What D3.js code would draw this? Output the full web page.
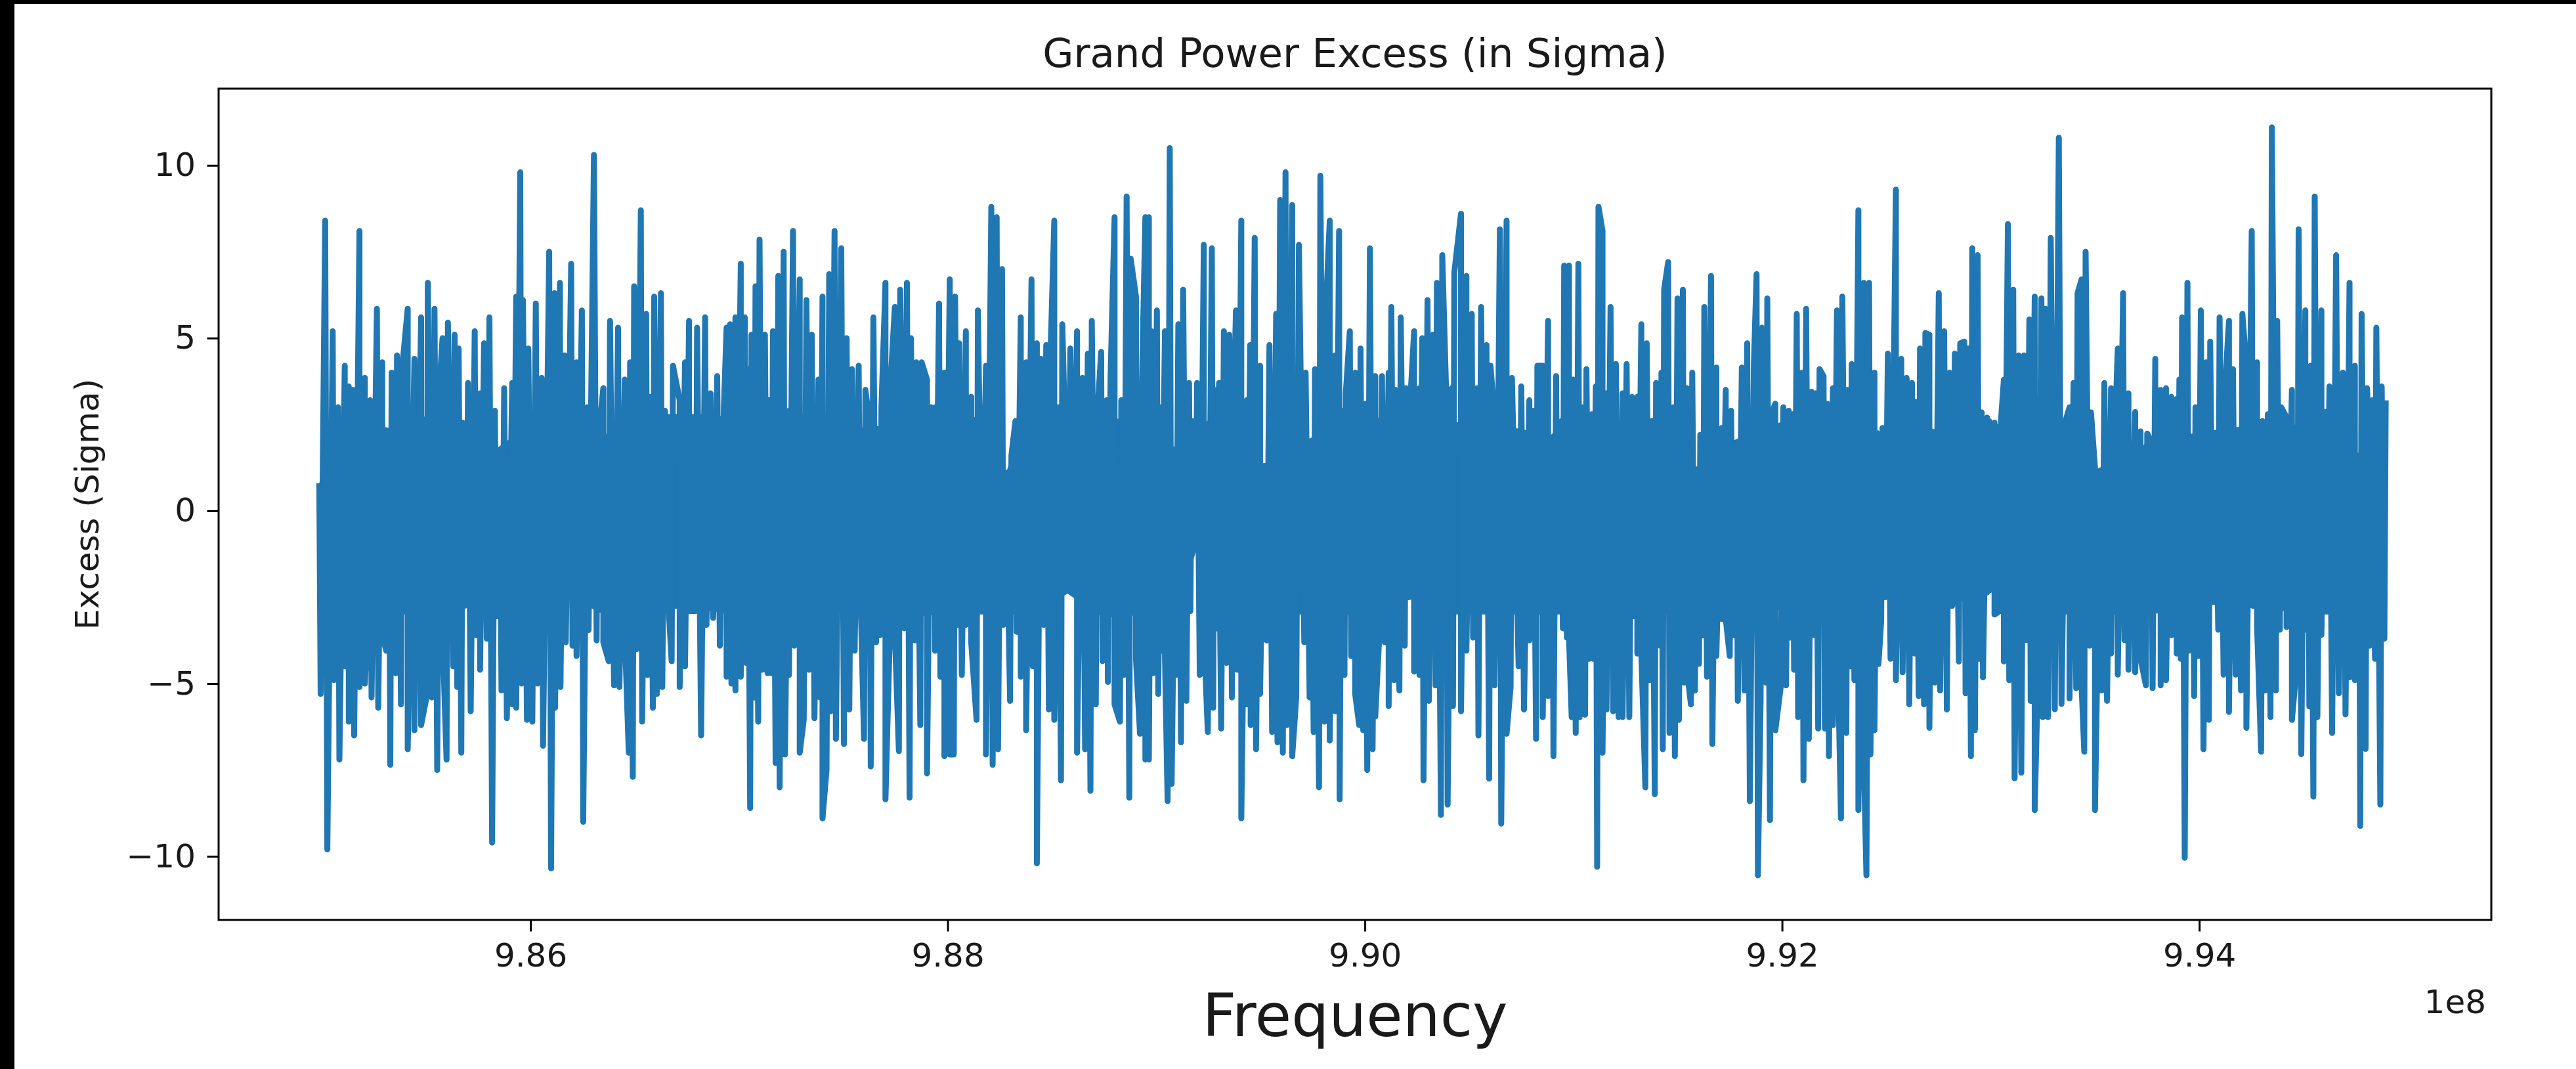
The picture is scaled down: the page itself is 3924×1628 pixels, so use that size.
<!DOCTYPE html>
<html><head><meta charset="utf-8">
<script src="https://cdn.jsdelivr.net/npm/d3@7"></script>
<style>
html,body{margin:0;padding:0;background:#fff;}
svg{display:block;}
text{font-family:"DejaVu Sans",sans-serif;fill:#1a1a1a;}
</style></head><body>
<svg id="chart" width="3924" height="1628"></svg>
<script>
// ---------- texts ----------
const chartTitle = "Grand Power Excess (in Sigma)";
const xAxisLabel = "Frequency";
const yAxisLabel = "Excess (Sigma)";
const xOffsetLabel = "1e8";
// ---------- axes ----------
const xTickValues = [9.86e8, 9.88e8, 9.90e8, 9.92e8, 9.94e8];
const yTickValues = [-10, -5, 0, 5, 10];
const xLimits = [9.84505e8, 9.95400e8];
const yLimits = [-11.84, 12.22];
// ---------- spectrum channels (frequency = start + channel * width) ----------
const channelStartHz = 9.849363e8;
const channelWidthHz = 1284.5;
const bandStartChannel = [0, 1568, 3136, 4704, 6272];
// [channel, excess sigma] local peaks and troughs
const band1Peaks = [[40,0.8],[62,8.4],[90,5.2],[110,3.0],[135,4.2],[150,3.6],[165,3.5],[190,8.1],[210,3.85],[230,3.2],[255,5.85],[275,4.3],[300,2.2],[310,4.0],[330,4.5],[350,4.2],[370,5.85],[395,4.4],[420,5.6],[445,6.6],[470,5.85],[490,3.8],[500,5.0],[520,5.45],[545,5.1],[560,4.7],[575,2.55],[595,3.7],[620,5.2],[640,3.4],[655,4.85],[675,5.6],[695,2.9],[715,0.4],[730,3.55],[760,3.7],[775,6.2],[790,9.8],[800,6.1],[820,4.7],[848,6.0],[870,3.85],[898,7.5],[918,6.3],[938,6.6],[955,4.5],[980,7.15],[1000,4.3],[1020,5.8],[1040,3.0],[1065,10.3],[1080,2.0],[1100,3.55],[1125,5.5],[1155,5.3],[1180,3.8],[1200,4.3],[1215,6.5],[1240,8.7],[1260,5.7],[1275,3.3],[1290,6.2],[1315,6.3],[1330,2.9],[1360,4.2],[1385,3.2],[1405,4.3],[1420,5.5],[1450,5.3],[1480,5.6],[1500,3.4],[1525,3.9],[1550,3.0],[1560,5.3]];
const band1Troughs = [[45,-5.3],[70,-9.8],[95,-4.9],[115,-7.2],[135,-4.5],[150,-6.1],[170,-6.5],[190,-5.1],[210,-5.0],[220,-3.3],[235,-5.4],[260,-5.7],[275,-3.6],[290,-4.05],[305,-7.35],[325,-4.7],[345,-5.6],[370,-6.9],[395,-6.35],[420,-6.2],[440,-5.4],[460,-5.4],[480,-7.5],[500,-3.6],[515,-7.2],[540,-4.5],[555,-5.1],[570,-7.0],[590,-2.5],[605,-5.8],[625,-3.6],[640,-4.6],[665,-3.7],[685,-9.6],[705,-3.05],[720,-5.2],[740,-6.0],[760,-5.6],[775,-5.7],[795,-5.0],[815,-6.05],[835,-6.1],[855,-5.0],[875,-6.8],[905,-10.35],[920,-5.7],[940,-5.1],[960,-3.8],[985,-3.9],[1000,-4.2],[1025,-9.0],[1045,-3.45],[1075,-3.75],[1100,-3.8],[1120,-4.35],[1140,-5.05],[1160,-5.1],[1180,-3.5],[1195,-7.0],[1210,-7.7],[1225,-4.0],[1245,-6.1],[1265,-4.75],[1285,-5.7],[1300,-5.3],[1320,-5.1],[1340,-2.3],[1355,-4.35],[1385,-5.1],[1405,-4.5],[1420,-2.9],[1445,-2.9],[1465,-6.5],[1485,-3.3],[1510,-3.1],[1535,-3.9],[1560,-4.8]];
const band2Peaks = [[5,5.4],[25,5.6],[45,7.15],[60,5.6],[70,4.1],[85,5.1],[100,6.5],[115,7.85],[135,5.1],[150,3.2],[165,5.2],[185,6.8],[205,7.5],[225,2.9],[240,8.1],[265,6.7],[290,6.1],[310,5.1],[335,3.8],[350,6.2],[375,6.85],[395,8.1],[420,7.6],[440,5.0],[460,4.1],[485,4.2],[510,3.5],[525,2.6],[540,5.6],[555,2.2],[570,3.0],[585,6.6],[605,3.85],[620,5.9],[640,6.4],[665,6.6],[680,5.0],[700,4.3],[720,4.3],[740,3.8],[755,3.0],[770,3.0],[785,6.0],[805,4.0],[825,6.7],[845,6.2],[860,4.85],[885,5.2],[905,3.3],[930,5.8],[960,4.2],[980,8.8],[1000,8.5],[1020,7.0],[1035,1.1],[1055,1.6],[1070,2.6],[1090,5.6],[1110,4.3],[1130,6.7],[1150,4.85],[1165,4.4],[1185,4.8],[1200,4.25],[1215,8.4],[1230,3.0],[1245,5.4],[1260,0.8],[1275,4.7],[1300,5.2],[1320,3.85],[1340,4.55],[1355,5.5],[1375,2.7],[1390,4.6],[1410,3.2],[1425,3.85],[1440,8.5],[1465,3.2],[1485,9.1],[1500,7.3],[1520,6.2],[1540,2.9],[1555,8.5]];
const band2Troughs = [[10,-5.0],[25,-5.2],[45,-4.8],[65,-4.4],[80,-8.6],[95,-5.4],[110,-6.1],[125,-4.6],[145,-4.7],[160,-4.7],[175,-7.3],[190,-8.0],[210,-7.05],[225,-4.75],[245,-3.9],[265,-7.0],[280,-6.05],[300,-4.6],[320,-6.0],[340,-5.4],[350,-8.9],[365,-7.5],[380,-5.8],[400,-6.6],[430,-6.75],[450,-5.75],[470,-4.05],[490,-1.8],[505,-6.6],[530,-7.4],[550,-3.8],[565,-3.6],[585,-8.35],[600,-3.95],[620,-3.5],[635,-6.95],[655,-3.4],[675,-8.3],[695,-3.75],[715,-6.2],[740,-7.6],[760,-0.5],[770,-4.05],[790,-4.8],[805,-7.1],[825,-7.05],[840,-7.05],[855,-3.3],[870,-4.75],[885,-3.3],[905,-3.8],[925,-6.05],[945,-2.3],[960,-7.05],[985,-7.35],[1005,-6.9],[1025,-3.3],[1050,-5.5],[1075,-3.5],[1090,-4.8],[1110,-6.35],[1135,-4.5],[1150,-10.2],[1175,-3.3],[1195,-5.75],[1215,-6.05],[1240,-7.8],[1265,-2.3],[1285,-2.4],[1300,-7.0],[1330,-6.9],[1350,-8.1],[1370,-5.6],[1395,-4.35],[1415,-4.95],[1440,-5.6],[1460,-6.1],[1475,-4.75],[1495,-8.3],[1520,-4.3],[1535,-6.45],[1555,-7.2]];
const band3Peaks = [[0,8.5],[10,5.2],[30,5.8],[45,3.0],[60,5.2],[78,10.5],[100,1.8],[110,5.4],[128,6.4],[150,3.7],[160,2.6],[180,3.7],[205,7.7],[235,7.6],[245,3.5],[262,3.7],[280,5.2],[300,5.1],[315,2.6],[325,5.8],[345,8.4],[365,3.2],[378,4.8],[395,7.9],[415,4.2],[430,1.3],[450,4.8],[475,5.7],[490,9.0],[510,9.8],[535,8.85],[560,7.7],[585,4.0],[605,2.0],[620,4.1],[640,9.7],[660,5.7],[675,8.4],[695,4.5],[710,8.1],[720,2.9],[735,3.4],[750,5.2],[770,4.0],[790,4.7],[808,3.1],[825,7.6],[845,3.9],[870,3.9],[895,4.0],[905,5.9],[920,3.5],[940,5.6],[960,3.55],[975,3.1],[990,5.2],[1010,3.55],[1020,5.0],[1040,6.1],[1060,5.1],[1075,6.6],[1095,7.4],[1110,3.3],[1130,3.55],[1140,6.9],[1165,8.6],[1185,6.8],[1205,5.7],[1225,3.55],[1240,5.9],[1260,4.8],[1275,4.2],[1290,2.7],[1305,3.8],[1310,8.15],[1335,8.4],[1355,3.85],[1390,3.6],[1420,3.2],[1435,2.9],[1450,4.2],[1470,4.2],[1490,5.5],[1505,2.1],[1520,3.9],[1540,2.6],[1550,7.1]];
const band3Troughs = [[0,-7.2],[15,-4.7],[35,-5.3],[45,-4.05],[60,-4.2],[70,-8.4],[85,-7.9],[100,-4.75],[120,-6.7],[140,-5.5],[155,-2.9],[175,-1.06],[190,-4.75],[205,-3.5],[220,-6.4],[240,-5.7],[255,-3.4],[265,-2.6],[270,-6.3],[290,-4.4],[310,-5.4],[330,-4.6],[345,-8.9],[365,-5.6],[380,-6.2],[400,-6.9],[415,-5.3],[440,-3.75],[460,-6.4],[480,-6.7],[500,-7.0],[515,-6.2],[535,-7.1],[550,-5.4],[580,-3.8],[600,-5.4],[615,-6.4],[635,-8.0],[655,-6.1],[675,-6.65],[695,-5.8],[712,-8.35],[730,-4.75],[755,-4.2],[770,-5.3],[785,-6.2],[800,-6.35],[815,-7.5],[835,-6.9],[845,-5.95],[860,-3.6],[880,-3.8],[895,-5.65],[915,-4.9],[935,-5.2],[955,-3.9],[970,-2.5],[990,-4.65],[1010,-4.75],[1025,-7.8],[1045,-5.5],[1070,-5.05],[1090,-8.8],[1115,-8.5],[1135,-5.65],[1165,-5.8],[1185,-4.05],[1210,-3.67],[1230,-6.5],[1250,-2.5],[1270,-7.75],[1290,-5.05],[1315,-9.05],[1335,-6.45],[1350,-5.1],[1380,-4.5],[1400,-5.75],[1420,-3.75],[1445,-6.6],[1470,-5.97],[1490,-5.36],[1510,-7.1],[1525,-2.8],[1545,-3.4],[1560,-3.67]];
const band4Peaks = [[0,7.1],[15,3.8],[35,7.15],[50,3.0],[65,4.1],[85,2.8],[100,3.6],[110,8.8],[125,8.1],[140,3.4],[155,5.9],[175,4.25],[200,3.4],[215,4.25],[235,3.3],[255,3.3],[270,5.4],[290,4.85],[310,2.6],[325,3.7],[345,4.0],[355,6.4],[370,7.2],[390,3.0],[405,6.15],[425,6.4],[440,3.55],[460,4.0],[478,1.2],[490,2.2],[505,5.9],[530,6.8],[550,4.15],[570,2.4],[585,3.5],[605,2.9],[625,1.9],[645,4.15],[665,4.85],[690,4.25],[700,6.85],[720,5.3],[740,6.15],[755,2.8],[770,3.1],[800,3.0],[820,2.9],[835,2.8],[850,5.7],[870,4.0],[885,5.85],[905,3.45],[920,3.4],[935,4.1],[950,3.9],[965,3.1],[985,3.55],[1000,5.8],[1020,6.2],[1040,3.5],[1055,4.25],[1080,8.7],[1100,6.6],[1120,6.6],[1140,4.0],[1150,2.25],[1170,2.4],[1190,4.55],[1220,9.3],[1240,4.4],[1260,3.85],[1280,3.7],[1295,3.15],[1310,4.7],[1330,5.15],[1345,5.1],[1355,2.3],[1380,6.3],[1400,5.2],[1420,4.0],[1440,4.55],[1460,4.85],[1475,4.9],[1490,4.7],[1505,7.6],[1525,7.4],[1540,2.85],[1560,2.7]];
const band4Troughs = [[0,-3.67],[10,-5.97],[25,-6.43],[40,-5.97],[60,-5.9],[75,-4.28],[90,-4.28],[105,-10.3],[125,-7.0],[140,-5.75],[165,-5.8],[185,-5.97],[200,-5.97],[225,-5.97],[240,-3.05],[255,-4.13],[270,-4.13],[285,-8.0],[300,-4.9],[320,-8.2],[340,-3.9],[350,-6.9],[375,-6.43],[395,-7.1],[410,-6.05],[430,-4.97],[440,-4.6],[455,-5.6],[470,-5.2],[485,-4.43],[500,-3.6],[515,-4.8],[535,-6.75],[550,-4.2],[570,-3.13],[585,-3.13],[600,-4.2],[615,-3.6],[630,-5.5],[655,-5.2],[675,-8.4],[705,-10.55],[715,-5.5],[735,-4.97],[750,-8.95],[770,-6.35],[790,-5.1],[810,-5.05],[825,-3.67],[840,-4.6],[855,-5.97],[875,-7.8],[895,-6.6],[910,-3.6],[930,-6.3],[955,-6.3],[970,-7.1],[985,-6.2],[1000,-2.9],[1015,-8.9],[1035,-6.43],[1050,-4.5],[1065,-4.9],[1080,-8.66],[1100,-7.05],[1110,-10.55],[1125,-7.05],[1140,-6.35],[1155,-4.43],[1165,-3.2],[1180,-2.5],[1200,-4.28],[1220,-4.9],[1245,-4.67],[1270,-5.6],[1290,-4.13],[1305,-5.36],[1325,-5.6],[1345,-6.28],[1365,-4.97],[1385,-5.2],[1410,-5.75],[1430,-2.75],[1455,-4.36],[1480,-5.28],[1500,-7.1],[1515,-6.35],[1530,-4.28],[1545,-4.82],[1560,-2.36]];
const band5Peaks = [[0,2.6],[20,2.55],[45,2.7],[55,3.8],[70,8.3],[90,6.4],[110,4.5],[130,4.5],[150,5.54],[170,6.2],[195,6.15],[210,5.85],[230,7.9],[260,10.8],[285,2.6],[300,3.0],[315,3.7],[330,6.3],[345,6.7],[360,7.5],[380,2.85],[395,1.24],[415,1.1],[430,3.7],[455,3.55],[465,1.24],[480,4.7],[500,6.3],[520,3.4],[545,2.86],[565,2.3],[590,2.24],[605,2.0],[620,4.4],[640,3.5],[660,3.55],[680,3.3],[700,3.24],[710,3.8],[720,5.6],[740,6.6],[760,2.1],[770,3.0],[790,5.8],[810,4.3],[825,4.9],[845,1.8],[860,5.6],[880,3.5],[895,5.5],[910,4.1],[925,2.15],[945,5.7],[960,4.2],[980,8.1],[1000,4.3],[1020,2.6],[1040,2.8],[1055,11.1],[1075,5.5],[1090,3.0],[1110,2.7],[1130,3.5],[1155,8.15],[1180,5.8],[1190,3.5],[1200,4.2],[1215,9.1],[1240,5.8],[1255,2.86],[1270,3.6],[1295,7.4],[1320,4.0],[1345,6.6],[1365,4.2],[1380,1.6],[1390,5.7],[1410,3.55],[1420,2.15],[1430,3.2],[1445,5.3],[1465,3.6],[1480,3.2]];
const band5Troughs = [[0,-2.3],[20,-3.0],[40,-2.9],[55,-4.36],[75,-4.9],[95,-7.74],[120,-7.58],[140,-3.74],[155,-5.5],[170,-8.66],[185,-3.82],[200,-5.97],[220,-5.97],[245,-5.74],[270,-5.59],[300,-5.43],[325,-5.13],[345,-5.05],[355,-6.97],[375,-3.9],[395,-8.66],[420,-5.2],[440,-5.5],[455,-4.13],[480,-4.74],[505,-3.74],[520,-4.6],[545,-4.67],[565,-4.28],[585,-5.05],[610,-5.13],[620,-2.9],[640,-5.05],[660,-4.9],[680,-3.6],[700,-4.13],[715,-4.28],[730,-10.04],[745,-4.05],[765,-5.36],[780,-4.2],[800,-6.9],[820,-6.05],[835,-2.6],[855,-3.44],[875,-4.74],[895,-5.82],[920,-4.74],[940,-5.2],[960,-6.28],[985,-2.75],[1000,-3.36],[1015,-6.97],[1030,-5.2],[1050,-5.97],[1070,-5.2],[1085,-3.44],[1110,-3.36],[1130,-6.05],[1150,-4.28],[1165,-7.04],[1180,-3.44],[1195,-5.66],[1210,-8.27],[1225,-5.97],[1240,-3.59],[1260,-2.82],[1280,-6.43],[1305,-5.28],[1330,-5.89],[1345,-4.82],[1365,-4.9],[1385,-9.12],[1405,-6.89],[1420,-3.9],[1440,-4.28],[1460,-8.5],[1475,-3.7]];
// [channel, upper, lower] edges of the solid band where the densely sampled line overlaps itself
const band1Core = [[40,0.8,-1.6],[100,2.8,-2.8],[300,2.4,-3.0],[500,2.9,-3.0],[700,1.8,-2.6],[900,2.9,-2.2],[1100,2.2,-3.0],[1300,2.8,-2.8],[1500,2.8,-2.9],[1568,2.7,-3.0]];
const band2Core = [[0,2.7,-3.0],[200,2.8,-3.0],[400,2.8,-3.0],[500,2.4,-2.0],[600,2.5,-3.1],[800,2.6,-3.0],[1000,2.8,-3.0],[1035,1.1,-3.0],[1100,2.6,-3.0],[1265,1.5,-2.4],[1400,2.7,-3.1],[1568,2.6,-3.0]];
const band3Core = [[0,2.6,-3.0],[100,1.8,-3.0],[175,2.6,-1.2],[300,2.6,-3.0],[430,1.3,-3.0],[600,2.1,-3.0],[800,2.7,-3.0],[970,2.7,-2.5],[1100,2.6,-3.0],[1300,2.5,-3.0],[1500,2.2,-3.0],[1568,2.6,-3.0]];
const band4Core = [[0,2.6,-3.0],[200,2.6,-3.0],[478,1.2,-3.0],[600,2.0,-2.6],[800,2.6,-2.9],[1000,2.5,-3.0],[1160,2.2,-2.4],[1350,2.3,-3.0],[1568,2.5,-2.3]];
const band5Core = [[0,2.5,-2.3],[200,2.6,-3.0],[400,1.2,-3.0],[600,2.0,-3.0],[800,2.3,-2.7],[1000,2.5,-2.8],[1200,2.5,-3.0],[1380,1.6,-3.0],[1480,2.7,-3.1]];

// ---------- build series ----------
const bands = [
  [band1Peaks, band1Troughs, band1Core],
  [band2Peaks, band2Troughs, band2Core],
  [band3Peaks, band3Troughs, band3Core],
  [band4Peaks, band4Troughs, band4Core],
  [band5Peaks, band5Troughs, band5Core]
];
const chanToHz = (i, c) => channelStartHz + (bandStartChannel[i] + c) * channelWidthHz;
const series = [];
const core = [];
bands.forEach(([peaks, troughs, coreEdges], i) => {
  const pts = peaks.map(d => ({c: d[0], v: d[1], k: 0}))
    .concat(troughs.map(d => ({c: d[0], v: d[1], k: 1})));
  pts.sort((a, b) => a.c - b.c || a.k - b.k);
  pts.forEach(p => series.push({f: chanToHz(i, p.c), v: p.v}));
  coreEdges.forEach(d => core.push({f: chanToHz(i, d[0]), hi: d[1], lo: d[2]}));
});

// ---------- layout ----------
const W = 3924, H = 1628;
const plot = {left: 333, right: 3795, top: 135, bottom: 1401};
const svg = d3.select("#chart");

svg.append("rect").attr("x", 0).attr("y", 0).attr("width", W).attr("height", H).attr("fill", "#fff");
svg.append("rect").attr("x", 0).attr("y", 0).attr("width", W).attr("height", 6).attr("fill", "#000");
svg.append("rect").attr("x", 0).attr("y", 0).attr("width", 22).attr("height", H).attr("fill", "#000");

const x = d3.scaleLinear().domain(xLimits).range([plot.left, plot.right]);
const y = d3.scaleLinear().domain(yLimits).range([plot.bottom, plot.top]);

svg.append("clipPath").attr("id", "clip")
  .append("rect").attr("x", plot.left).attr("y", plot.top)
  .attr("width", plot.right - plot.left).attr("height", plot.bottom - plot.top);

const lineColor = "#1f77b4";
const area = d3.area().x(d => x(d.f)).y0(d => y(d.lo)).y1(d => y(d.hi));
svg.append("path")
  .datum(core)
  .attr("clip-path", "url(#clip)")
  .attr("fill", lineColor)
  .attr("d", area);

const line = d3.line().x(d => x(d.f)).y(d => y(d.v));
svg.append("path")
  .datum(series)
  .attr("clip-path", "url(#clip)")
  .attr("fill", "none")
  .attr("stroke", lineColor)
  .attr("stroke-width", 9)
  .attr("stroke-linejoin", "round")
  .attr("d", line);

// axes
const fmtX = d => (d / 1e8).toFixed(2);
const fmtY = d => (d < 0 ? "\u2212" + Math.abs(d) : String(d));

const gx = svg.append("g").attr("transform", `translate(0,${plot.bottom})`)
  .call(d3.axisBottom(x).tickValues(xTickValues).tickFormat(fmtX).tickSizeOuter(0).tickSize(17.5).tickPadding(17.5));
const gy = svg.append("g").attr("transform", `translate(${plot.left},0)`)
  .call(d3.axisLeft(y).tickValues(yTickValues).tickFormat(fmtY).tickSizeOuter(0).tickSize(17.5).tickPadding(17.5));
[gx, gy].forEach(g => {
  g.select(".domain").remove();
  g.selectAll(".tick line").attr("stroke", "#000").attr("stroke-width", 3);
  g.selectAll(".tick text").attr("font-family", "DejaVu Sans").attr("font-size", 50).attr("fill", "#1a1a1a");
});

// frame
svg.append("rect")
  .attr("x", plot.left).attr("y", plot.top)
  .attr("width", plot.right - plot.left).attr("height", plot.bottom - plot.top)
  .attr("fill", "none").attr("stroke", "#000").attr("stroke-width", 3);

// texts
const cx = (plot.left + plot.right) / 2;
svg.append("text").attr("x", cx).attr("y", 102).attr("text-anchor", "middle")
  .attr("font-size", 61).text(chartTitle);
svg.append("text").attr("x", cx).attr("y", 1578).attr("text-anchor", "middle")
  .attr("font-size", 90).text(xAxisLabel);
svg.append("text").attr("x", plot.right - 8).attr("y", 1543).attr("text-anchor", "end")
  .attr("font-size", 50).text(xOffsetLabel);
svg.append("text")
  .attr("transform", `translate(150,${(plot.top + plot.bottom) / 2}) rotate(-90)`)
  .attr("text-anchor", "middle").attr("font-size", 50).text(yAxisLabel);
</script>
</body></html>
